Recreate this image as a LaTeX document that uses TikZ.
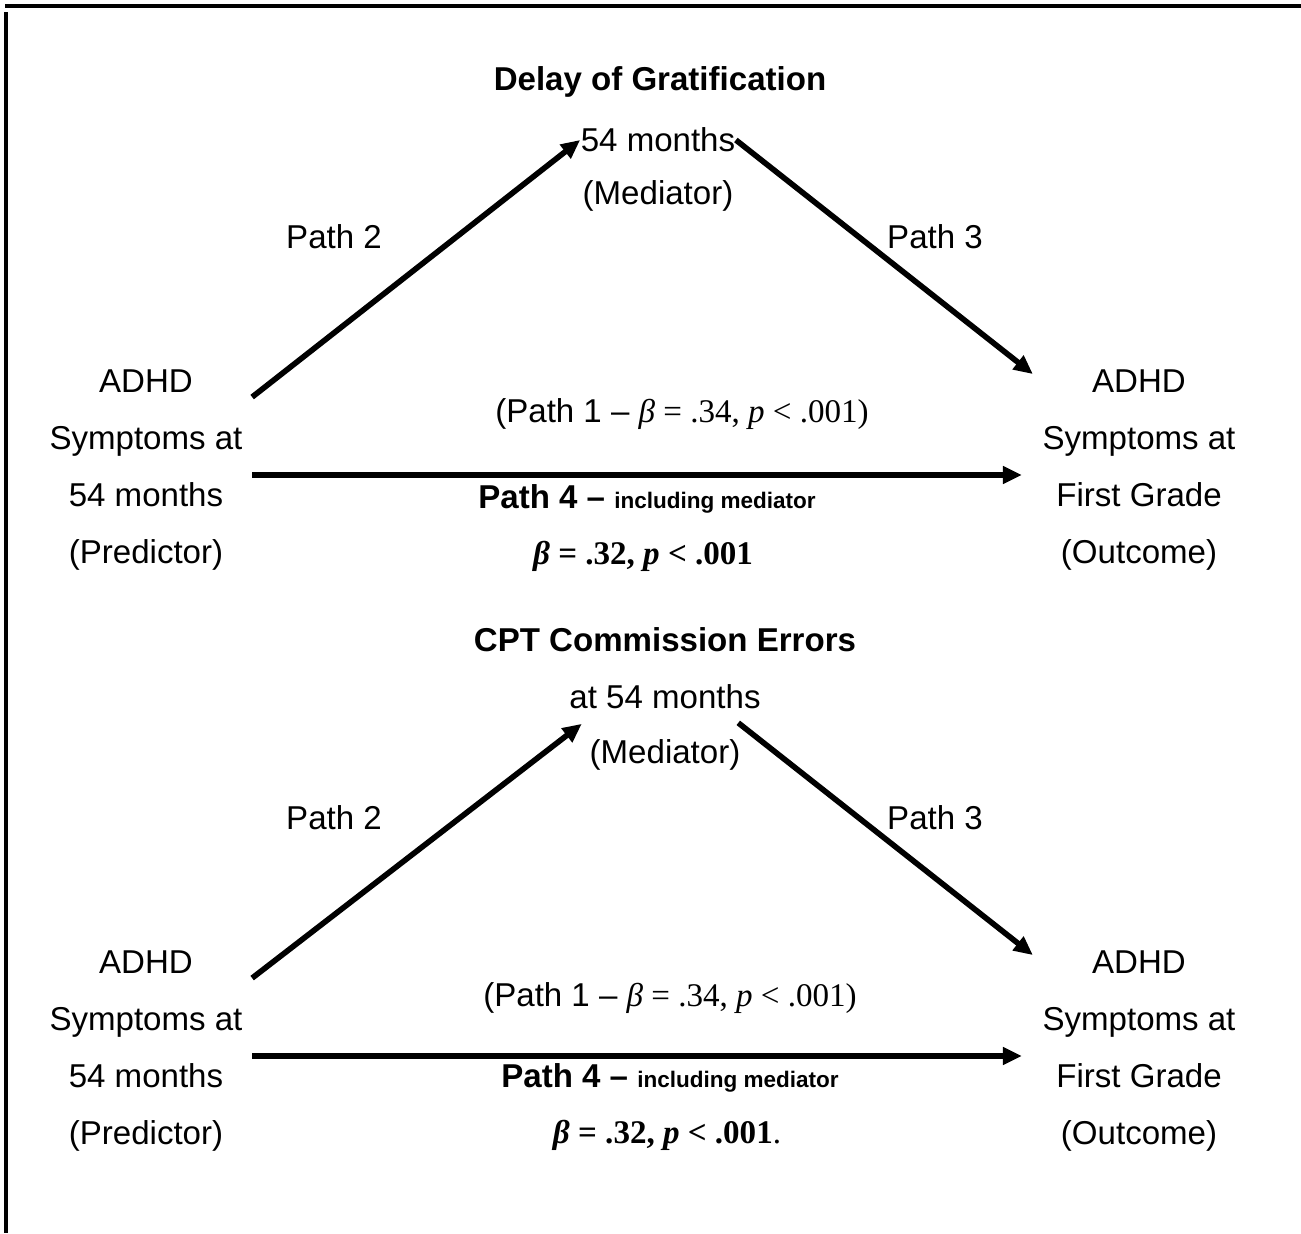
\documentclass[tikz,border=0pt]{standalone}
\usepackage{fontspec}
\setmainfont{Liberation Sans}
\newfontfamily\tnr{Liberation Serif}
\usetikzlibrary{arrows.meta}

\begin{document}
\begin{tikzpicture}[x=0.01cm, y=-0.01cm]

  % Define text and path styles
  \tikzset{txt/.style={inner sep=0pt, align=center, font=\fontsize{9.4}{16.2}\selectfont},
           head/.style={txt, font=\fontsize{9.4}{16.2}\selectfont\bfseries},
           pathline/.style={line width=1.6pt, -{Triangle[length=5.4pt, width=4.8pt]}}}

  \useasboundingbox (0,0) rectangle (1301,1233);

  % Frame
  \draw[line width=0.9pt] (5,6) -- (1301,6);
  \draw[line width=0.9pt] (6,12) -- (6,1233);

  % Upper model: delay of gratification
  \node[head] (title1) at (660,82) {Delay of Gratification};
  \node[txt] (med1) at (658,140) {54 months};
  \node[txt] (medl1) at (658,196) {(Mediator)};
  \node[txt] (p2a) at (334,237) {Path 2};
  \node[txt] (p3a) at (935,237) {Path 3};
  \node[txt] (pred1) at (146,470) {ADHD\\Symptoms at\\54 months\\(Predictor)};
  \node[txt] (out1) at (1139,470) {ADHD\\Symptoms at\\First Grade\\(Outcome)};
  \node[txt] (p1a) at (682,414) {(Path 1 – {\tnr\textit{β} = .34, \textit{p} < .001)}};
  \node[txt] (p4a) at (647,499) {\bfseries Path 4 – {\fontsize{6.4}{8}\selectfont including mediator}};
  \node[txt] (b1) at (643,556) {\tnr\bfseries\textit{β} = .32, \textit{p} < .001};

  \draw[pathline] ([shift={(9,28)}]pred1.north east) -- (med1.west);
  \draw[pathline] (med1.east) -- ([shift={(-9,5)}]out1.north west);
  \draw[pathline] ([shift={(9,5)}]pred1.east) -- ([shift={(-20,5)}]out1.west);

  % Lower model: CPT commission errors
  \node[head] (title2) at (665,640) {CPT Commission Errors};
  \node[txt] (med2) at (665,697) {at 54 months};
  \node[txt] (medl2) at (665,755) {(Mediator)};
  \node[txt] (p2b) at (334,818) {Path 2};
  \node[txt] (p3b) at (935,818) {Path 3};
  \node[txt] (pred2) at (146,1051) {ADHD\\Symptoms at\\54 months\\(Predictor)};
  \node[txt] (out2) at (1139,1051) {ADHD\\Symptoms at\\First Grade\\(Outcome)};
  \node[txt] (p1b) at (670,998) {(Path 1 – {\tnr\textit{β} = .34, \textit{p} < .001)}};
  \node[txt] (p4b) at (670,1078) {\bfseries Path 4 – {\fontsize{6.4}{8}\selectfont including mediator}};
  \node[txt] (b2) at (667,1135) {{\tnr\bfseries\textit{β} = .32, \textit{p} < .001}{\tnr .}};

  \draw[pathline] ([shift={(9,28)}]pred2.north east) -- ([shift={(13,14)}]med2.south west);
  \draw[pathline] ([shift={(-23,13)}]med2.south east) -- ([shift={(-9,5)}]out2.north west);
  \draw[pathline] ([shift={(9,5)}]pred2.east) -- ([shift={(-20,5)}]out2.west);

\end{tikzpicture}
\end{document}
